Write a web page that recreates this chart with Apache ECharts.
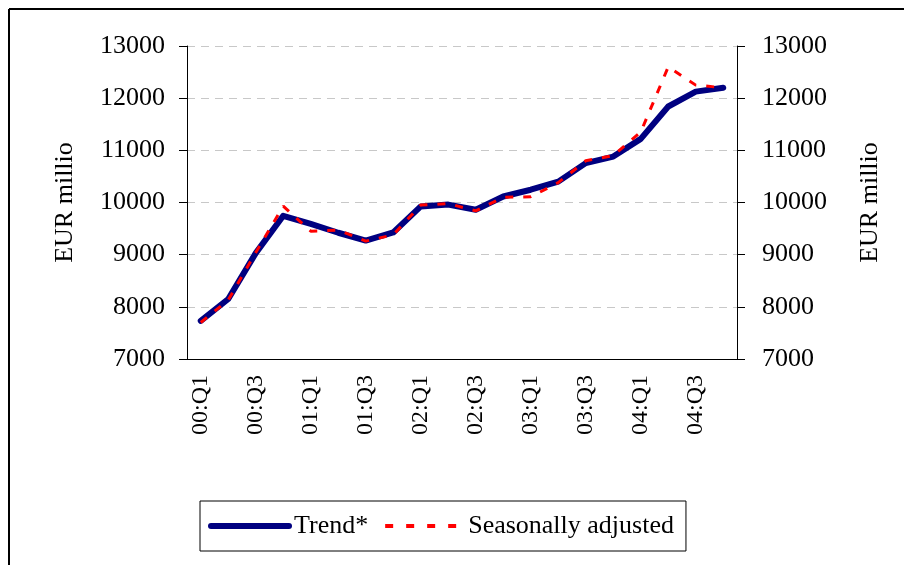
<!DOCTYPE html>
<html>
<head>
<meta charset="utf-8">
<script src="https://cdn.jsdelivr.net/npm/echarts@6/dist/echarts.min.js"></script>
<style>
  html, body { margin: 0; padding: 0; background: #fff; }
  #chart { width: 905px; height: 565px; }
</style>
</head>
<body>
<div id="chart"></div>
<script>
// ----------data----------
const quarters = [
  '00:Q1', '00:Q2', '00:Q3', '00:Q4',
  '01:Q1', '01:Q2', '01:Q3', '01:Q4',
  '02:Q1', '02:Q2', '02:Q3', '02:Q4',
  '03:Q1', '03:Q2', '03:Q3', '03:Q4',
  '04:Q1', '04:Q2', '04:Q3', '04:Q4'
];
const trend = [
  7730, 8150, 9030, 9745,
  9590, 9420, 9270, 9425,
  9925, 9960, 9860, 10115,
  10245, 10400, 10755, 10880,
  11220, 11840, 12125, 12200
];
const seasonallyAdjusted = [
  7700, 8130, 9040, 9930,
  9450, 9470, 9260, 9380,
  9950, 9980, 9840, 10100,
  10110, 10380, 10800, 10900,
  11350, 12600, 12250, 12200
];
const yTicks = { min: 7000, max: 13000, step: 1000 };
// ------------------------

const font = 'Liberation Serif, Times New Roman, serif';

const chart = echarts.init(document.getElementById('chart'));

const yAxisBase = {
  type: 'value',
  min: yTicks.min,
  max: yTicks.max,
  interval: yTicks.step,
  nameLocation: 'middle',
  nameTextStyle: { fontFamily: font, fontSize: 26, color: '#000' },
  axisLine: { show: true, lineStyle: { color: '#000', width: 1 } },
  axisTick: { show: true, length: 8, lineStyle: { color: '#000' } },
  axisLabel: { fontFamily: font, fontSize: 26, color: '#000', formatter: (v) => String(v) }
};

chart.setOption({
  animation: false,
  backgroundColor: '#fff',
  graphic: [
    { type: 'line', shape: { x1: 9, y1: 9, x2: 904, y2: 9 }, style: { stroke: '#000', lineWidth: 2 } },
    { type: 'line', shape: { x1: 9, y1: 9, x2: 9, y2: 565 }, style: { stroke: '#000', lineWidth: 2 } }
  ],
  grid: { left: 187, right: 168, top: 46, bottom: 206 },
  legend: {
    left: 200,
    top: 501,
    padding: [12, 12, 12, 8],
    borderColor: '#000',
    borderWidth: 1,
    itemWidth: 78,
    itemHeight: 14,
    itemGap: 15,
    itemStyle: { opacity: 0 },
    textStyle: { fontFamily: font, fontSize: 26, color: '#000' },
    data: [
      { name: 'Trend*', lineStyle: { width: 6, cap: 'round' } },
      { name: 'Seasonally adjusted', lineStyle: { width: 4, type: [8, 13] } }
    ]
  },
  xAxis: {
    type: 'category',
    data: quarters,
    boundaryGap: true,
    axisLine: { lineStyle: { color: '#000', width: 1 } },
    axisTick: { interval: 0, length: 8, lineStyle: { color: '#000' } },
    axisLabel: {
      interval: 1,
      rotate: 90,
      margin: 16,
      fontFamily: font,
      fontSize: 24,
      color: '#000'
    }
  },
  yAxis: [
    Object.assign({}, yAxisBase, {
      position: 'left',
      name: 'EUR millio',
      nameGap: 109,
      axisLabel: Object.assign({}, yAxisBase.axisLabel, { margin: 22 }),
      splitLine: { show: true, lineStyle: { color: '#c8c8c8', type: [8, 6] } }
    }),
    Object.assign({}, yAxisBase, {
      position: 'right',
      name: 'EUR millio',
      nameGap: 120,
      axisLabel: Object.assign({}, yAxisBase.axisLabel, { margin: 25 }),
      splitLine: { show: false }
    })
  ],
  series: [
    {
      name: 'Trend*',
      type: 'line',
      data: trend,
      symbol: 'none',
      itemStyle: { color: '#000080' },
      lineStyle: { color: '#000080', width: 6, cap: 'round', join: 'round' }
    },
    {
      name: 'Seasonally adjusted',
      type: 'line',
      data: seasonallyAdjusted,
      symbol: 'none',
      itemStyle: { color: '#ff0000' },
      lineStyle: { color: '#ff0000', width: 3, type: [8, 10] }
    }
  ]
});
</script>
</body>
</html>
